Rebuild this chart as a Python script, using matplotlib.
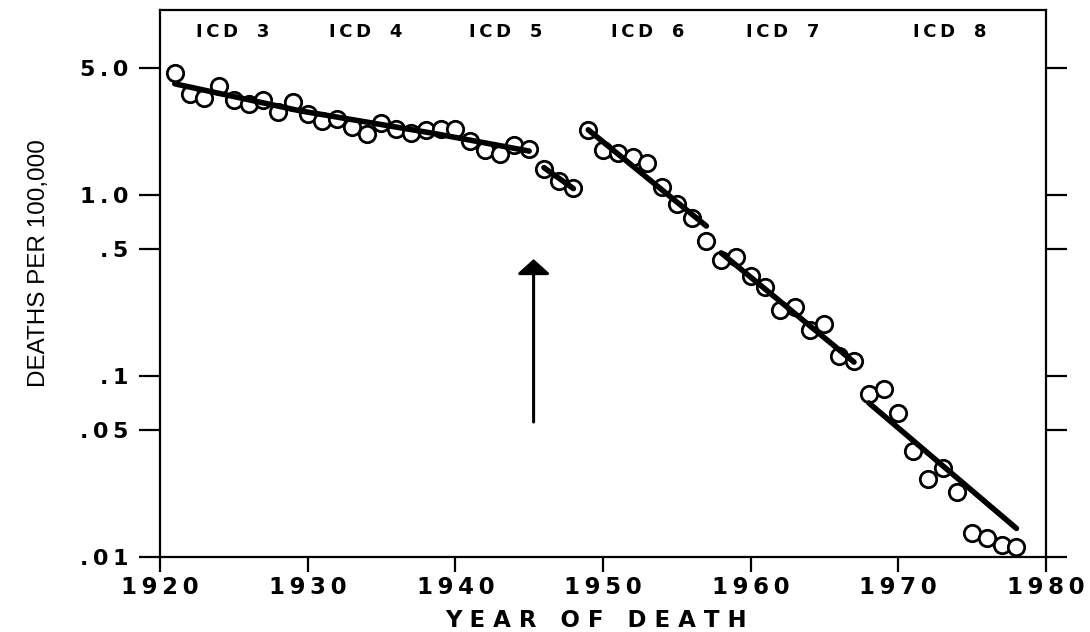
import matplotlib
matplotlib.use('Agg')
import matplotlib.pyplot as plt
from matplotlib.ticker import FixedLocator, NullLocator, FixedFormatter

# ---------------- data ----------------
years = list(range(1921, 1979))
deaths = [4.70, 3.60, 3.43, 3.99, 3.35, 3.15, 3.31, 2.87, 3.24,            # 1921-1929
          2.78, 2.55, 2.62, 2.36, 2.16, 2.49, 2.31, 2.20, 2.26,            # 1930-1938
          2.29, 2.29, 1.97, 1.76, 1.67, 1.88, 1.79, 1.38, 1.19, 1.09,      # 1939-1948
          2.27, 1.77, 1.69, 1.61, 1.49, 1.10, 0.888, 0.744, 0.555,         # 1949-1957
          0.436, 0.454, 0.357, 0.311, 0.230, 0.239, 0.179, 0.193, 0.129, 0.121,  # 1958-1967
          0.0796, 0.0848, 0.0625, 0.0386, 0.0271, 0.0308, 0.0227,
          0.01365, 0.01268, 0.01159, 0.0113]                                # 1968-1978

# fitted trend lines (year, value)
fit_a_years = [1921, 1929.5, 1938.5, 1945]
fit_a_vals = [4.09, 2.90, 2.18, 1.74]
fit_b_years = [1946, 1948]
fit_b_vals = [1.41, 1.08]
fit_c_years = [1949, 1957]
fit_c_vals = [2.28, 0.671]
fit_d_years = [1958, 1967]
fit_d_vals = [0.477, 0.119]
fit_e_years = [1968, 1978]
fit_e_vals = [0.0709, 0.01438]

icd_labels = ['ICD 3', 'ICD 4', 'ICD 5', 'ICD 6', 'ICD 7', 'ICD 8']
icd_label_x = [1924.9, 1933.9, 1943.4, 1953.0, 1962.2, 1973.5]

arrow_year = 1945.3
arrow_from = 0.0556
arrow_to = 0.441

xticks = [1920, 1930, 1940, 1950, 1960, 1970, 1980]
xtick_labels = ['1920', '1930', '1940', '1950', '1960', '1970', '1980']
yticks = [0.01, 0.05, 0.1, 0.5, 1.0, 5.0]
ytick_labels = ['.01', '.05', '.1', '.5', '1.0', '5.0']

# ---------------- helpers ----------------
TS = '\u2009'


def thin(s):
    return TS.join(s)


def wide(s):
    words = s.split(' ')
    return '   '.join(' '.join(w) for w in words)


def icd(s):
    words = s.split(' ')
    return '   '.join(TS.join(w) for w in words)


# ---------------- figure ----------------
fig = plt.figure(figsize=(10.9, 6.32), dpi=100)
ax = fig.add_axes([160 / 1090, 1 - 557 / 632, (1046 - 160) / 1090, (557 - 10) / 632])
ax.set_yscale('log')
ax.set_xlim(1920, 1980)
ax.set_ylim(0.01, 10.45)

ax.plot(years, deaths, linestyle='none', marker='o', markersize=11.8,
        markerfacecolor='white', markeredgecolor='black', markeredgewidth=2.0, zorder=2)

for fx, fy in [(fit_a_years, fit_a_vals), (fit_b_years, fit_b_vals),
               (fit_c_years, fit_c_vals), (fit_d_years, fit_d_vals),
               (fit_e_years, fit_e_vals)]:
    ax.plot(fx, fy, color='black', linewidth=4.0, solid_capstyle='round', zorder=3)

ax.annotate('', xy=(arrow_year, arrow_to), xytext=(arrow_year, arrow_from),
            arrowprops=dict(arrowstyle='-|>,head_length=0.45,head_width=0.5',
                            mutation_scale=20, lw=2.2, color='black',
                            shrinkA=0, shrinkB=0))

for lab, lx in zip(icd_labels, icd_label_x):
    ax.text(lx, 0.9506, icd(lab), transform=ax.get_xaxis_transform(),
            ha='center', va='baseline', fontsize=13, fontweight='bold',
            family='DejaVu Sans')

# ticks
ax.xaxis.set_major_locator(FixedLocator(xticks))
ax.xaxis.set_major_formatter(FixedFormatter([thin(t) for t in xtick_labels]))
ax.xaxis.set_minor_locator(NullLocator())
ax.yaxis.set_major_locator(FixedLocator(yticks))
ax.yaxis.set_major_formatter(FixedFormatter([thin(t) for t in ytick_labels]))
ax.yaxis.set_minor_locator(NullLocator())

ax.tick_params(axis='x', direction='out', length=11, width=1.6, pad=3,
               labelsize=16.5, top=False)
ax.tick_params(axis='y', direction='out', length=15, width=1.6, pad=8,
               labelsize=16, left=True, right=True, labelright=False)
for lab in ax.get_xticklabels() + ax.get_yticklabels():
    lab.set_fontweight('bold')
    lab.set_family('DejaVu Sans')

for sp in ax.spines.values():
    sp.set_linewidth(1.6)

fig.text(596 / 1090, 1 - 627 / 632, wide('YEAR OF DEATH'), ha='center', va='baseline',
         fontsize=16.5, fontweight='bold', family='DejaVu Sans')
fig.text(39 / 1090, 1 - 263 / 632, 'DEATHS PER 100,000', rotation=90,
         ha='center', va='center', fontsize=17.5, family='Liberation Sans')

fig.savefig('out.png', dpi=100, facecolor='white')
